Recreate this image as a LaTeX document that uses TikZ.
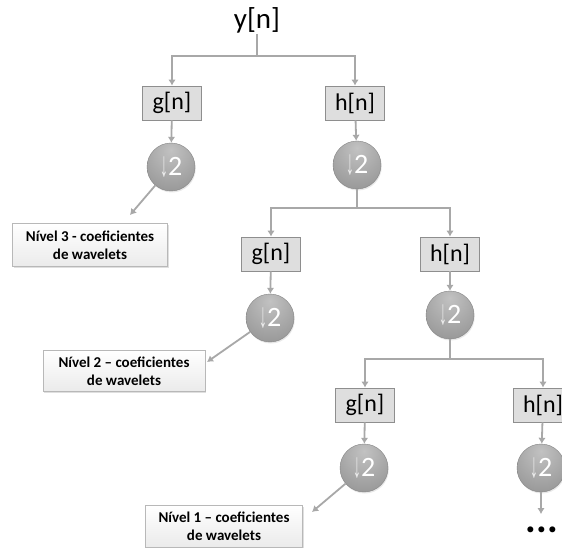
\documentclass[tikz,border=0pt]{standalone}
\usepackage{fontspec}
\usepackage{graphicx}
\setmainfont{Carlito}
\newfontfamily\arrfont{Liberation Sans}
\usetikzlibrary{arrows.meta,shadows}
\definecolor{connc}{HTML}{A8A8A8}
\definecolor{boxfill}{HTML}{DEDEDE}
\definecolor{boxdraw}{HTML}{8E8E8E}
\pgfdeclareradialshading{dsball}{\pgfpoint{0bp}{18bp}}{color(0bp)=(black!24); color(16bp)=(black!31); color(34bp)=(black!39); color(50bp)=(black!45); color(62bp)=(black!53); color(72bp)=(black!58); color(90bp)=(black!60)}
\begin{document}
\begin{tikzpicture}[x=1pt,y=-1pt,
  line/.style={draw=connc, line width=1.8pt},
  arr/.style={line, -{Latex[length=6pt,width=7.5pt]}},
  filt/.style={rectangle, draw=boxdraw, fill=boxfill, line width=0.8pt, minimum width=59pt, minimum height=34pt, inner sep=0pt, font=\fontsize{24}{27}\selectfont},
  ds/.style={circle, minimum size=48pt, inner sep=0pt, shading=dsball, draw=black!48, line width=0.4pt, text=white, font=\fontsize{28}{30}\selectfont,
    drop shadow={opacity=0.18, shadow xshift=0.8pt, shadow yshift=-1.5pt}},
  lbl/.style={rectangle, draw=black!28, line width=0.6pt, top color=white, bottom color=black!8, inner sep=0pt, align=center,
    font=\bfseries\fontsize{15}{18}\selectfont, drop shadow={opacity=0.25, shadow xshift=1.2pt, shadow yshift=-1.5pt}}
]
\clip (0,0) rectangle (562,548);
\fill[white] (0,0) rectangle (562,548);
\newcommand{\dsdown}{\raisebox{-1pt}{\scalebox{0.75}[1.6]{\arrfont\fontsize{22}{22}\selectfont\color{white!92!black}↓}}\kern0pt 2}
% level 3 (top)
\node[font=\fontsize{29}{32}\selectfont, inner sep=1pt] (yn) at (257,20) {y[n]};
\coordinate (j1) at (257,56);
\node[filt] (g1) at (172,103) {g[n]};
\node[filt] (h1) at (355,103) {h[n]};
\node[ds] (c1) at (171,167) {\dsdown};
\node[ds] (d1) at (357,165) {\dsdown};
\node[lbl, minimum width=155pt, minimum height=43pt] (L3) at (90,245) {Nível 3 - coeficientes\\de wavelets};
\coordinate (a3) at (130,215);
% level 2
\coordinate (j2) at (357,208);
\node[filt] (g2) at (271,254) {g[n]};
\node[filt] (h2) at (450,254) {h[n]};
\node[ds] (c2) at (270,318) {\dsdown};
\node[ds] (d2) at (450,315) {\dsdown};
\node[lbl, minimum width=162pt, minimum height=41pt] (L2) at (124,371) {Nível 2 – coeficientes\\de wavelets};
\coordinate (a2) at (207,362);
% level 1
\coordinate (j3) at (450,359);
\node[filt] (g3) at (365,405) {g[n]};
\node[filt] (h3) at (543,405) {h[n]};
\node[ds] (c3) at (364,468) {\dsdown};
\node[ds] (d3) at (541,468) {\dsdown};
\node[lbl, minimum width=157pt, minimum height=42pt] (L1) at (224,526) {Nível 1 – coeficientes\\de wavelets};
\coordinate (a1) at (312,512);
\coordinate (e3) at (541,514);
\node[font=\bfseries\fontsize{40}{40}\selectfont, inner sep=0pt, anchor=base] (dots) at (542,532) {...};
% connectors
\draw[line] (yn) -- (j1);
\draw[arr] (j1) -| (g1);
\draw[arr] (j1) -| (h1);
\draw[arr] (g1) -- (c1);
\draw[arr] (h1) -- (d1);
\draw[arr] (c1) -- (a3);
\draw[line] (d1) -- (j2);
\draw[arr] (j2) -| (g2);
\draw[arr] (j2) -| (h2);
\draw[arr] (g2) -- (c2);
\draw[arr] (h2) -- (d2);
\draw[arr] (c2) -- (a2);
\draw[line] (d2) -- (j3);
\draw[arr] (j3) -| (g3);
\draw[arr] (j3) -| (h3);
\draw[arr] (g3) -- (c3);
\draw[arr] (h3) -- (d3);
\draw[arr] (c3) -- (a1);
\draw[arr] (d3) -- (e3);
\end{tikzpicture}
\end{document}
